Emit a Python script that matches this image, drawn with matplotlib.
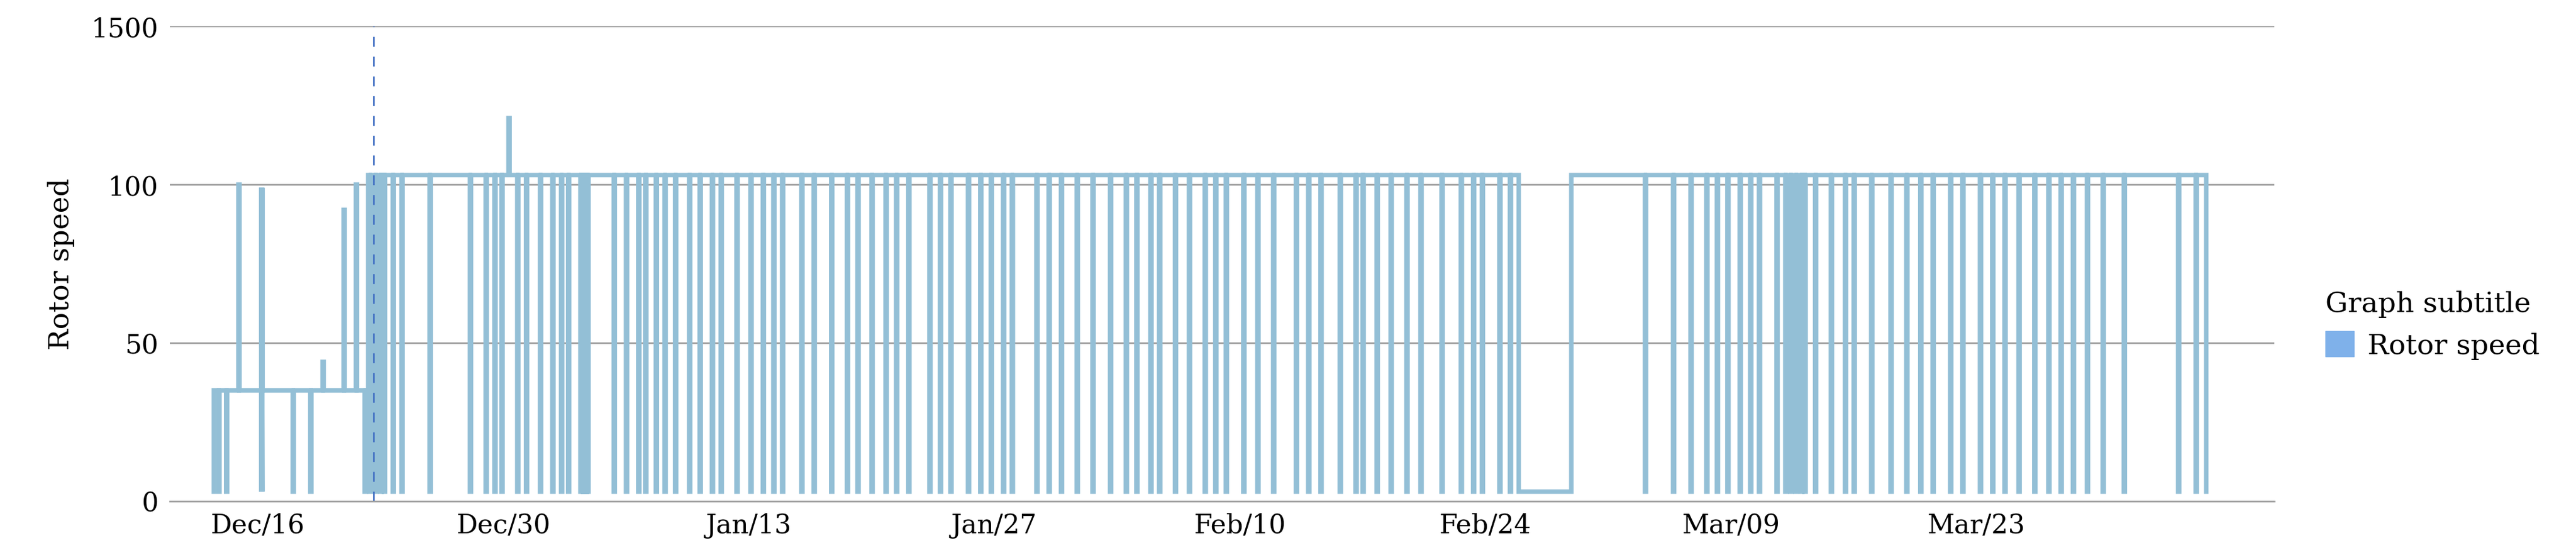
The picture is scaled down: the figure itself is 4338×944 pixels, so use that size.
import numpy as np
import matplotlib.pyplot as plt
from matplotlib.patches import Patch

# days counted from Dec 1 (Dec/16 = 16)
tick_days = [16, 30, 44, 58, 72, 86, 100, 114]
tick_labels = ['Dec/16', 'Dec/30', 'Jan/13', 'Jan/27', 'Feb/10', 'Feb/24', 'Mar/09', 'Mar/23']

# base operating levels: (start, end, level)
segments = [(13.5, 22.3, 35), (22.3, 87.9, 103), (87.9, 90.9, 3), (90.9, 127.1, 103)]

# short stops where the rotor speed drops to ~3
drop_days = [13.76, 14.2, 16.2, 18.0, 19.0, 22.1, 22.4, 22.7, 23.0, 23.2, 23.7, 24.2,
             25.8, 28.1, 29.0, 29.5, 29.9, 30.8, 31.3, 32.1, 32.8, 33.3, 33.7, 34.4,
             34.55, 34.7, 34.8, 36.3, 37.0, 37.7, 38.1, 38.7, 39.2, 39.8, 40.6, 41.2,
             41.9, 42.4, 43.3, 44.1, 44.8, 45.4, 45.9, 47.0, 47.7, 48.7, 49.6, 50.2,
             51.0, 51.8, 52.4, 53.1, 54.3, 54.9, 55.5, 56.5, 57.2, 57.8, 58.5, 59.0,
             60.4, 61.1, 61.8, 62.7, 63.6, 64.6, 65.5, 66.1, 66.9, 67.4, 68.3, 69.1,
             70.0, 70.6, 71.2, 72.2, 73.0, 73.9, 75.2, 75.9, 76.6, 77.7, 78.6, 79.0,
             79.8, 80.6, 81.5, 82.3, 83.5, 84.6, 85.3, 85.8, 86.8, 87.4, 95.1, 96.7,
             97.7, 98.6, 99.2, 99.8, 100.5, 101.1, 101.6, 102.6, 103.1, 103.4, 103.7,
             104.0, 104.2, 104.8, 105.7, 106.5, 107.0, 108.0, 109.1, 110.0, 110.8,
             111.5, 112.5, 113.2, 114.2, 114.9, 115.6, 116.4, 117.3, 118.1, 118.8,
             119.5, 120.3, 121.2, 122.4, 125.5, 126.5]

# brief upward excursions: (day, peak)
spike_days = [14.9, 16.2, 19.7, 20.9, 21.6, 30.3]
spike_vals = [100, 99, 44, 92, 100, 121]

drop_level = 3
drop_width = 0.06


def base_at(t):
    for s, e, lvl in segments:
        if s <= t < e:
            return lvl
    return segments[-1][2]


events = [(d, drop_level) for d in drop_days] + list(zip(spike_days, spike_vals))

pts = [(segments[0][0], 0, drop_level), (segments[0][0], 1, segments[0][2])]
# level changes between segments
for (s0, e0, l0), (s1, e1, l1) in zip(segments[:-1], segments[1:]):
    pts += [(s1, 0, l0), (s1, 1, l1)]
for d, v in events:
    b = base_at(d)
    pts += [(d, 0, b), (d, 1, v), (d + drop_width, 2, v), (d + drop_width, 3, base_at(d + drop_width))]
pts.append((segments[-1][1], 0, segments[-1][2]))
pts.append((segments[-1][1], 1, drop_level))
pts.sort()
xs = np.array([p[0] for p in pts])
ys = np.array([p[2] for p in pts])

fig = plt.figure(figsize=(43.38, 9.45), dpi=100)
ax = fig.add_axes([0.066, 0.105, 0.817, 0.847])
ax.plot(xs, ys, color='#93bfd6', linewidth=5.5, solid_joinstyle='miter')
ax.axvline(22.6, color='#4472c4', linestyle=(0, (6, 6)), linewidth=2)

ax.set_ylim(0, 150)
ax.set_yticks([0, 50, 100, 150])
ax.set_yticklabels(['0', '50', '100', '1500'])
ax.set_xlim(11, 131)
ax.set_xticks(tick_days)
ax.set_xticklabels(tick_labels)
ax.grid(axis='y', color='#a0a0a0', linewidth=2)
ax.set_axisbelow(True)
for sp in ['top', 'right', 'left']:
    ax.spines[sp].set_visible(False)
ax.spines['bottom'].set_color('#a0a0a0')
ax.spines['bottom'].set_linewidth(2)
ax.tick_params(length=0, labelsize=32, pad=14)
for lab in ax.get_xticklabels() + ax.get_yticklabels():
    lab.set_family('DejaVu Serif')
ax.set_ylabel('Rotor speed', fontsize=34, family='DejaVu Serif', labelpad=20)

leg = fig.legend(handles=[Patch(color='#7fb1ea', label='Rotor speed')],
                 title='Graph subtitle', loc='center left', bbox_to_anchor=(0.893, 0.42),
                 frameon=False, prop={'family': 'DejaVu Serif', 'size': 34},
                 title_fontproperties={'family': 'DejaVu Serif', 'size': 34},
                 handlelength=1.0, handleheight=1.0, handletextpad=0.5)
leg._legend_box.align = 'left'

fig.savefig('out.png', dpi=100)
